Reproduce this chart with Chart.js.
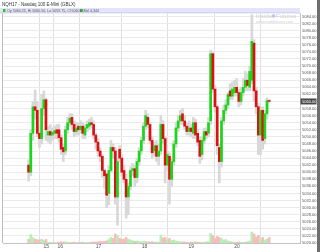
<!DOCTYPE html>
<html><head><meta charset="utf-8">
<script src="https://cdn.jsdelivr.net/npm/chart.js@4/dist/chart.umd.min.js"></script>
<style>html,body{margin:0;padding:0;background:#fff;overflow:hidden}canvas{display:block}</style>
</head><body>
<canvas id="c" width="320" height="252" style="width:320px;height:252px"></canvas>
<script>
const titleText = 'NQH17 - Nasdaq 100 E-Mini (GBLX)';
const legendText = 'Op 5060.25, Hi 5060.50, Lo 5059.75, Cl 5060.00';
const volText = 'Vol 4,344';
const xTickPos = [8.1, 14.6, 32.3, 53.5, 75, 96.2];
const xTickLabels = ['15', '16', '17', '18', '19', '20'];
const priceTicks = [5020,5022,5024,5026,5028,5030,5032,5034,5036,5038,5040,5042,5044,5046,5048,5050,5052,5054,5056,5058,5060,5062,5064,5066,5068,5070,5072,5074,5076,5078,5080,5082,5084];

const opens = [5042,5040,5051,5058.5,5057.5,5051,5049.5,5058,5060.5,5050.5,
5051.5,5050.5,5051,5052,5052,5049.75,5047,5046,5052,5054,
5055.5,5053.5,5051.5,5053,5052,5053,5050.5,5052.5,5053,5054,
5053.5,5050.5,5048.5,5046,5044.5,5040.5,5039.5,5034,5040.5,5047,
5046,5033,5046.5,5044,5040.5,5038,5033,5036,5040.5,5041,
5038.5,5043,5046,5049,5053,5055.5,5053.5,5049,5046,5047.5,
5044.5,5046,5053.5,5049.5,5042,5044.5,5038,5043,5048,5052.5,
5054.5,5056.5,5054.5,5053,5051.5,5052.5,5051,5054,5051,5049,
5045,5049,5051.5,5051,5054.5,5073.5,5063.5,5058.5,5047,5043,
5054.5,5057.5,5059,5063,5061.5,5062.5,5064,5062.5,5060,5062.5,
5064,5066,5064,5066,5076.5,5063,5058.5,5050.5,5057.5,5049.5,
5056.5,5060.25];
const highs = [5043.5,5052,5060,5063.25,5060,5053,5062,5063,5061,5053,
5053.5,5052.5,5053,5053.5,5053.5,5050.5,5048,5053,5055.5,5056.5,
5056.5,5054.5,5054,5054,5054.5,5054,5053.5,5054.5,5055,5055.5,
5054.5,5051,5049.5,5047,5045,5041,5040,5042,5049,5048,
5047,5044,5047.5,5045,5042,5039.5,5037,5041.5,5042.5,5042,
5044,5047,5050,5054,5057.5,5056.5,5054,5050,5048.5,5049,
5048,5056,5054.5,5050,5046,5045.5,5044,5049,5054,5056,
5057.5,5058,5056,5054,5054.5,5053.5,5055.5,5055,5052,5050,
5050,5052.5,5052.5,5055.5,5074.5,5074,5064.5,5059,5048,5055.5,
5059,5060.5,5062.5,5065,5065.5,5066,5066.5,5063.5,5064,5066.5,
5068.5,5068,5070,5084.5,5077.5,5064,5059.5,5058.5,5058.5,5057.5,
5061,5060.5];
const lows = [5037.5,5039,5049,5055,5050,5047,5048,5056,5049,5048.5,
5048,5049,5049.5,5049.5,5048.5,5045,5043,5045,5051,5053,
5052,5050,5050.5,5050.5,5051,5049.5,5049.5,5051.5,5052,5052.5,
5049.5,5046.5,5044.5,5043,5038.5,5035.5,5030,5030.75,5040,5044,
5031,5025,5043,5039,5037,5027,5028,5035,5039,5036,
5037,5042,5045,5048,5052,5052.5,5048,5044,5044.5,5043,
5042,5045,5048,5037,5040.5,5031,5036,5042,5047,5051.5,
5053.5,5053.5,5052,5050.5,5050.5,5050,5049.5,5049.5,5047.5,5042.5,
5043.5,5048,5049.5,5050,5053.5,5062.5,5057,5045,5037,5041.5,
5053.5,5056.5,5058,5060.5,5060.5,5061.5,5061.5,5058.5,5059,5061.5,
5063,5063,5063,5065,5060,5056.5,5045,5045,5046.5,5048,
5055,5059.75];
const closes = [5040,5051,5058.5,5057.5,5051,5049.5,5058,5060.5,5052,5051.5,
5050.5,5051.25,5051.75,5051,5049.75,5046.5,5045.75,5052,5054,5055.25,
5053.5,5051.5,5052.5,5052,5053,5051,5052.5,5053.5,5054,5053.5,
5050.5,5048.5,5046,5044.5,5040.5,5039,5033.5,5040.5,5047,5046,
5033,5043,5044,5040,5038,5033,5036,5040.5,5041,5038.5,
5043,5046,5049,5053,5056,5053.5,5049,5045.5,5047.5,5044.5,
5046,5053.5,5049.5,5042,5045,5038,5043,5048,5052.5,5054.5,
5056,5054.5,5053,5051.5,5052.5,5051.5,5054,5050.5,5048.5,5044.5,
5049,5051.5,5050.5,5054,5073.5,5063.5,5058.5,5047.5,5043,5054.5,
5057.5,5059,5062,5061.5,5063.5,5064,5062.5,5060,5062.5,5064,
5066,5064.5,5068.5,5077,5063,5058.5,5050.5,5057.5,5049,5056.5,
5060.25,5060];
const volumes = [3000,6800,4200,3000,2600,2400,3000,2000,2800,
600,400,500,300,400,700,900,800,1000,600,500,400,700,300,400,500,600,300,400,500,700,800,600,900,1200,1000,1400,1800,
2800,4400,3600,7200,6000,3600,2800,3200,4400,3000,2400,
1800,1400,1600,1200,1000,1400,1200,900,800,1000,700,600,800,
6400,4000,4400,2400,3600,2000,2400,1600,
1200,1000,800,700,600,500,800,700,900,600,700,500,600,800,1200,
7600,6000,3600,5200,4400,3600,2400,2800,1600,
1000,800,700,600,800,500,600,700,900,
1600,8800,7200,4800,6000,3200,4400,2400,3200,4344];

const idx = opens.map((_, i) => i);
const up = idx.map(i => closes[i] >= opens[i]);
const wickData = idx.map(i => ({x: i, y: [lows[i], highs[i]]}));
const bodyData = idx.map(i => ({x: i, y: [opens[i], closes[i]]}));
const volData = idx.map(i => ({x: i, y: volumes[i]}));
const FONT = 'Liberation Sans, Arial, sans-serif';
Chart.defaults.font.family = FONT;

const deco = {
  id: 'deco',
  beforeDraw(chart) {
    const c = chart.ctx;
    c.save();
    c.fillStyle = '#fff'; c.fillRect(0, 0, 320, 252);
    c.fillStyle = '#6e6e6e'; c.fillRect(317, 0, 3, 252);
    c.fillStyle = '#333'; c.font = '4.5px ' + FONT; c.textBaseline = 'middle';
    c.fillText(titleText, 2, 4.5);
    c.fillStyle = '#e3e3fa'; c.fillRect(0, 8, 300, 5);
    c.fillStyle = '#c6c6ee'; c.fillRect(0, 12.5, 300, 0.8);
    c.fillStyle = '#22cc22'; c.fillRect(3, 9, 2.5, 3); c.fillRect(80, 9, 2.5, 3);
    c.fillStyle = '#555'; c.font = '3.6px ' + FONT;
    c.fillText(legendText, 7, 10.6);
    c.fillText(volText, 84, 10.6);
    c.restore();
  },
  beforeDatasetsDraw(chart) {
    const c = chart.ctx;
    const a = chart.chartArea;
    c.save();
    c.fillStyle = '#bdbdbd'; c.fillRect(2, a.top, 1, a.bottom - a.top);
    c.fillStyle = '#cfcfcf'; c.textBaseline = 'middle';
    c.font = '6px ' + FONT;
    c.fillText('Inside', 256, 16);
    c.beginPath(); c.arc(273.5, 16, 1.8, 0, Math.PI * 2); c.fillStyle = '#b8c8dc'; c.fill();
    c.fillStyle = '#cfcfcf';
    c.fillText('Futures', 276, 16);
    c.font = '3.6px ' + FONT;
    c.fillText('www.insidefutures.com', 256, 22);
    c.restore();
  },
  afterDraw(chart) {
    const c = chart.ctx;
    const y = chart.scales.y.getPixelForValue(closes[closes.length - 1]);
    c.save();
    c.fillStyle = '#4a4a4a'; c.fillRect(300.5, y - 3, 16, 6);
    c.fillStyle = '#fff'; c.font = '4px ' + FONT; c.textBaseline = 'middle';
    c.fillText(closes[closes.length - 1].toFixed(2), 302, y + 0.3);
    c.restore();
  }
};

new Chart(document.getElementById('c'), {
  type: 'bar',
  data: {
    datasets: [
      {label: 'Vol', data: volData, yAxisID: 'yv', backgroundColor: up.map(u => u ? '#b4f0b4' : '#f7bcbc'), barThickness: 2, grouped: false, order: 3},
      {label: 'Range', data: wickData, yAxisID: 'y', backgroundColor: '#d8d8d8', barThickness: 2, grouped: false, order: 2},
      {label: 'Body', data: bodyData, yAxisID: 'y', backgroundColor: up.map(u => u ? '#18d818' : '#dd1111'), barThickness: 2, grouped: false, minBarLength: 1, order: 1}
    ]
  },
  options: {
    responsive: false, animation: false, devicePixelRatio: 1,
    layout: {padding: {left: 3, right: 3, top: 13, bottom: 0}},
    plugins: {legend: {display: false}, tooltip: {enabled: false}, title: {display: false}},
    scales: {
      x: {
        type: 'linear', min: -0.4, max: 113.8,
        afterBuildTicks: s => { s.ticks = xTickPos.map(v => ({value: v})); },
        ticks: {callback: (v, i) => xTickLabels[i], font: {size: 5}, color: '#555', padding: 1, maxRotation: 0, autoSkip: false},
        grid: {color: '#e0e0e0', drawTicks: false},
        border: {color: '#c4c4c4'},
        afterFit: s => { s.height = 9; }
      },
      y: {
        position: 'right', min: 5020, max: 5085,
        afterBuildTicks: s => { s.ticks = priceTicks.map(v => ({value: v})); },
        ticks: {callback: v => Number(v).toFixed(2), font: {size: 4}, color: '#555', padding: 2, autoSkip: false},
        grid: {color: '#ebebeb', drawTicks: false},
        border: {color: '#c4c4c4'},
        afterFit: s => { s.width = 17; }
      },
      yv: {display: false, min: 0, max: 184000}
    }
  },
  plugins: [deco]
});
</script>
</body></html>
